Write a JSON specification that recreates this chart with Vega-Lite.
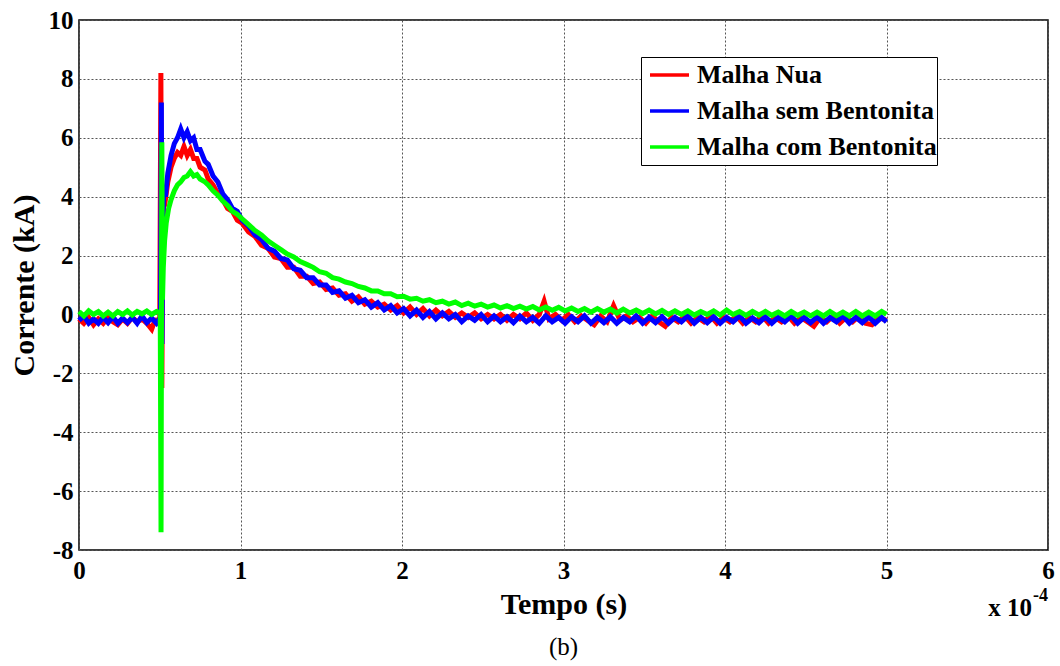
{
"$schema": "https://vega.github.io/schema/vega-lite/v6.json",
"width": 969, "height": 530,
"autosize": {"type": "none"},
"padding": {"left": 79, "top": 20, "right": 12, "bottom": 116},
"background": "white",
"datasets": {
"nua": [{"t":0,"v":-0.15},{"t":0.03,"v":-0.3},{"t":0.06,"v":-0.1},{"t":0.09,"v":-0.35},{"t":0.12,"v":-0.15},{"t":0.15,"v":-0.3},{"t":0.18,"v":-0.1},{"t":0.21,"v":-0.25},{"t":0.24,"v":-0.35},{"t":0.27,"v":-0.15},{"t":0.3,"v":-0.3},{"t":0.33,"v":-0.1},{"t":0.36,"v":-0.25},{"t":0.39,"v":-0.15},{"t":0.42,"v":-0.3},{"t":0.45,"v":-0.5},{"t":0.47,"v":-0.2},{"t":0.5,"v":-0.15},{"t":0.507,"v":8.2},{"t":0.513,"v":-2.5},{"t":0.518,"v":2.5},{"t":0.525,"v":4.0},{"t":0.535,"v":3.9},{"t":0.55,"v":4.5},{"t":0.57,"v":5.0},{"t":0.59,"v":5.3},{"t":0.61,"v":5.5},{"t":0.63,"v":5.4},{"t":0.65,"v":5.7},{"t":0.67,"v":5.4},{"t":0.69,"v":5.6},{"t":0.71,"v":5.3},{"t":0.73,"v":5.3},{"t":0.75,"v":5.0},{"t":0.78,"v":4.9},{"t":0.8,"v":4.6},{"t":0.83,"v":4.4},{"t":0.86,"v":4.1},{"t":0.89,"v":3.9},{"t":0.92,"v":3.6},{"t":0.95,"v":3.5},{"t":0.98,"v":3.2},{"t":1.01,"v":3.1},{"t":1.05,"v":2.8},{"t":1.09,"v":2.65},{"t":1.13,"v":2.35},{"t":1.17,"v":2.25},{"t":1.21,"v":1.95},{"t":1.25,"v":1.9},{"t":1.29,"v":1.6},{"t":1.33,"v":1.6},{"t":1.37,"v":1.3},{"t":1.41,"v":1.3},{"t":1.45,"v":1.05},{"t":1.49,"v":1.1},{"t":1.53,"v":0.85},{"t":1.57,"v":0.9},{"t":1.61,"v":0.65},{"t":1.65,"v":0.7},{"t":1.69,"v":0.45},{"t":1.73,"v":0.6},{"t":1.77,"v":0.35},{"t":1.81,"v":0.45},{"t":1.85,"v":0.25},{"t":1.89,"v":0.35},{"t":1.93,"v":0.15},{"t":1.97,"v":0.3},{"t":2.01,"v":0.05},{"t":2.05,"v":0.25},{"t":2.09,"v":0.0},{"t":2.13,"v":0.2},{"t":2.17,"v":-0.05},{"t":2.21,"v":0.15},{"t":2.25,"v":-0.05},{"t":2.29,"v":0.1},{"t":2.33,"v":-0.1},{"t":2.37,"v":0.05},{"t":2.41,"v":-0.1},{"t":2.45,"v":0.05},{"t":2.49,"v":-0.15},{"t":2.53,"v":0.0},{"t":2.57,"v":-0.15},{"t":2.61,"v":0.0},{"t":2.65,"v":-0.2},{"t":2.69,"v":0.0},{"t":2.73,"v":-0.15},{"t":2.77,"v":0.05},{"t":2.81,"v":-0.2},{"t":2.85,"v":0.0},{"t":2.88,"v":0.45},{"t":2.91,"v":-0.15},{"t":2.95,"v":0.0},{"t":2.99,"v":-0.2},{"t":3.03,"v":0.0},{"t":3.07,"v":-0.25},{"t":3.11,"v":-0.05},{"t":3.15,"v":-0.2},{"t":3.19,"v":-0.35},{"t":3.23,"v":-0.05},{"t":3.27,"v":-0.25},{"t":3.31,"v":0.3},{"t":3.35,"v":-0.2},{"t":3.39,"v":-0.05},{"t":3.43,"v":-0.25},{"t":3.47,"v":-0.1},{"t":3.51,"v":-0.3},{"t":3.55,"v":-0.05},{"t":3.59,"v":-0.25},{"t":3.63,"v":-0.4},{"t":3.67,"v":-0.1},{"t":3.71,"v":-0.25},{"t":3.75,"v":-0.05},{"t":3.79,"v":-0.3},{"t":3.83,"v":-0.1},{"t":3.87,"v":-0.25},{"t":3.91,"v":-0.05},{"t":3.95,"v":-0.3},{"t":3.99,"v":-0.1},{"t":4.03,"v":-0.25},{"t":4.07,"v":-0.05},{"t":4.11,"v":-0.3},{"t":4.15,"v":-0.1},{"t":4.19,"v":-0.25},{"t":4.23,"v":-0.05},{"t":4.27,"v":-0.3},{"t":4.31,"v":-0.1},{"t":4.35,"v":-0.25},{"t":4.39,"v":-0.05},{"t":4.43,"v":-0.3},{"t":4.47,"v":-0.1},{"t":4.51,"v":-0.25},{"t":4.55,"v":-0.4},{"t":4.59,"v":-0.1},{"t":4.63,"v":-0.25},{"t":4.67,"v":-0.05},{"t":4.71,"v":-0.3},{"t":4.75,"v":-0.1},{"t":4.79,"v":-0.25},{"t":4.83,"v":-0.05},{"t":4.87,"v":-0.3},{"t":4.91,"v":-0.35},{"t":4.95,"v":-0.1},{"t":5.0,"v":-0.2}],
"sem": [{"t":0,"v":-0.2},{"t":0.03,"v":-0.05},{"t":0.06,"v":-0.3},{"t":0.09,"v":-0.15},{"t":0.12,"v":-0.3},{"t":0.15,"v":-0.1},{"t":0.18,"v":-0.28},{"t":0.21,"v":-0.08},{"t":0.24,"v":-0.3},{"t":0.27,"v":-0.12},{"t":0.3,"v":-0.28},{"t":0.33,"v":-0.1},{"t":0.36,"v":-0.3},{"t":0.39,"v":-0.05},{"t":0.42,"v":-0.28},{"t":0.45,"v":-0.12},{"t":0.48,"v":-0.3},{"t":0.505,"v":-0.1},{"t":0.51,"v":7.2},{"t":0.514,"v":-1.0},{"t":0.518,"v":3.0},{"t":0.525,"v":4.3},{"t":0.535,"v":4.0},{"t":0.55,"v":4.8},{"t":0.57,"v":5.4},{"t":0.59,"v":5.8},{"t":0.61,"v":6.0},{"t":0.63,"v":6.3},{"t":0.65,"v":6.0},{"t":0.67,"v":6.2},{"t":0.69,"v":5.9},{"t":0.71,"v":6.0},{"t":0.73,"v":5.6},{"t":0.75,"v":5.6},{"t":0.78,"v":5.2},{"t":0.8,"v":5.1},{"t":0.83,"v":4.7},{"t":0.86,"v":4.5},{"t":0.89,"v":4.1},{"t":0.92,"v":3.9},{"t":0.95,"v":3.6},{"t":0.98,"v":3.5},{"t":1.01,"v":3.2},{"t":1.05,"v":3.0},{"t":1.09,"v":2.7},{"t":1.13,"v":2.55},{"t":1.17,"v":2.25},{"t":1.21,"v":2.15},{"t":1.25,"v":1.9},{"t":1.29,"v":1.85},{"t":1.33,"v":1.55},{"t":1.37,"v":1.5},{"t":1.41,"v":1.25},{"t":1.45,"v":1.25},{"t":1.49,"v":1.0},{"t":1.53,"v":1.0},{"t":1.57,"v":0.75},{"t":1.61,"v":0.8},{"t":1.65,"v":0.55},{"t":1.69,"v":0.65},{"t":1.73,"v":0.4},{"t":1.77,"v":0.5},{"t":1.81,"v":0.25},{"t":1.85,"v":0.4},{"t":1.89,"v":0.15},{"t":1.93,"v":0.3},{"t":1.97,"v":0.05},{"t":2.01,"v":0.2},{"t":2.05,"v":-0.05},{"t":2.09,"v":0.15},{"t":2.13,"v":-0.1},{"t":2.17,"v":0.1},{"t":2.21,"v":-0.15},{"t":2.25,"v":0.05},{"t":2.29,"v":-0.15},{"t":2.33,"v":0.0},{"t":2.37,"v":-0.25},{"t":2.41,"v":-0.05},{"t":2.45,"v":-0.2},{"t":2.49,"v":0.0},{"t":2.53,"v":-0.25},{"t":2.57,"v":-0.05},{"t":2.61,"v":-0.25},{"t":2.65,"v":-0.08},{"t":2.69,"v":-0.28},{"t":2.73,"v":-0.05},{"t":2.77,"v":-0.25},{"t":2.81,"v":-0.1},{"t":2.85,"v":-0.3},{"t":2.89,"v":-0.05},{"t":2.93,"v":-0.25},{"t":2.97,"v":-0.1},{"t":3.01,"v":-0.3},{"t":3.05,"v":-0.08},{"t":3.09,"v":-0.25},{"t":3.13,"v":-0.05},{"t":3.17,"v":-0.3},{"t":3.21,"v":-0.1},{"t":3.25,"v":-0.28},{"t":3.29,"v":-0.08},{"t":3.33,"v":-0.3},{"t":3.37,"v":-0.1},{"t":3.41,"v":-0.25},{"t":3.45,"v":-0.05},{"t":3.49,"v":-0.3},{"t":3.53,"v":-0.1},{"t":3.57,"v":-0.28},{"t":3.61,"v":-0.08},{"t":3.65,"v":-0.3},{"t":3.69,"v":-0.1},{"t":3.73,"v":-0.25},{"t":3.77,"v":-0.05},{"t":3.81,"v":-0.3},{"t":3.85,"v":-0.1},{"t":3.89,"v":-0.28},{"t":3.93,"v":-0.08},{"t":3.97,"v":-0.3},{"t":4.01,"v":-0.1},{"t":4.05,"v":-0.25},{"t":4.09,"v":-0.05},{"t":4.13,"v":-0.3},{"t":4.17,"v":-0.12},{"t":4.21,"v":-0.28},{"t":4.25,"v":-0.08},{"t":4.29,"v":-0.3},{"t":4.33,"v":-0.1},{"t":4.37,"v":-0.25},{"t":4.41,"v":-0.05},{"t":4.45,"v":-0.3},{"t":4.49,"v":-0.1},{"t":4.53,"v":-0.28},{"t":4.57,"v":-0.08},{"t":4.61,"v":-0.3},{"t":4.65,"v":-0.1},{"t":4.69,"v":-0.25},{"t":4.73,"v":-0.05},{"t":4.77,"v":-0.3},{"t":4.81,"v":-0.1},{"t":4.85,"v":-0.28},{"t":4.89,"v":-0.08},{"t":4.93,"v":-0.3},{"t":4.97,"v":-0.1},{"t":5.0,"v":-0.25}],
"com": [{"t":0,"v":0.1},{"t":0.03,"v":-0.05},{"t":0.06,"v":0.12},{"t":0.09,"v":0.0},{"t":0.12,"v":0.1},{"t":0.15,"v":-0.05},{"t":0.18,"v":0.08},{"t":0.21,"v":-0.05},{"t":0.24,"v":0.1},{"t":0.27,"v":0.0},{"t":0.3,"v":0.12},{"t":0.33,"v":-0.02},{"t":0.36,"v":0.1},{"t":0.39,"v":0.02},{"t":0.42,"v":0.12},{"t":0.45,"v":0.0},{"t":0.48,"v":0.1},{"t":0.503,"v":0.05},{"t":0.508,"v":-7.4},{"t":0.513,"v":5.85},{"t":0.517,"v":0.5},{"t":0.522,"v":1.6},{"t":0.53,"v":2.5},{"t":0.54,"v":3.1},{"t":0.555,"v":3.6},{"t":0.57,"v":3.9},{"t":0.59,"v":4.2},{"t":0.61,"v":4.4},{"t":0.63,"v":4.5},{"t":0.65,"v":4.65},{"t":0.67,"v":4.7},{"t":0.69,"v":4.85},{"t":0.71,"v":4.7},{"t":0.73,"v":4.75},{"t":0.75,"v":4.6},{"t":0.78,"v":4.5},{"t":0.8,"v":4.4},{"t":0.83,"v":4.2},{"t":0.86,"v":4.05},{"t":0.89,"v":3.85},{"t":0.92,"v":3.7},{"t":0.95,"v":3.5},{"t":0.98,"v":3.4},{"t":1.01,"v":3.25},{"t":1.05,"v":3.05},{"t":1.09,"v":2.85},{"t":1.13,"v":2.7},{"t":1.17,"v":2.5},{"t":1.21,"v":2.35},{"t":1.25,"v":2.2},{"t":1.29,"v":2.05},{"t":1.33,"v":1.95},{"t":1.37,"v":1.8},{"t":1.41,"v":1.7},{"t":1.45,"v":1.6},{"t":1.49,"v":1.45},{"t":1.53,"v":1.4},{"t":1.57,"v":1.25},{"t":1.61,"v":1.2},{"t":1.65,"v":1.1},{"t":1.69,"v":1.05},{"t":1.73,"v":0.95},{"t":1.77,"v":0.9},{"t":1.81,"v":0.8},{"t":1.85,"v":0.8},{"t":1.89,"v":0.7},{"t":1.93,"v":0.7},{"t":1.97,"v":0.6},{"t":2.01,"v":0.62},{"t":2.05,"v":0.52},{"t":2.09,"v":0.55},{"t":2.13,"v":0.45},{"t":2.17,"v":0.5},{"t":2.21,"v":0.4},{"t":2.25,"v":0.45},{"t":2.29,"v":0.35},{"t":2.33,"v":0.42},{"t":2.37,"v":0.3},{"t":2.41,"v":0.38},{"t":2.45,"v":0.28},{"t":2.49,"v":0.35},{"t":2.53,"v":0.25},{"t":2.57,"v":0.32},{"t":2.61,"v":0.22},{"t":2.65,"v":0.3},{"t":2.69,"v":0.2},{"t":2.73,"v":0.28},{"t":2.77,"v":0.18},{"t":2.81,"v":0.27},{"t":2.85,"v":0.15},{"t":2.89,"v":0.25},{"t":2.93,"v":0.14},{"t":2.97,"v":0.24},{"t":3.01,"v":0.12},{"t":3.05,"v":0.22},{"t":3.09,"v":0.1},{"t":3.13,"v":0.2},{"t":3.17,"v":0.08},{"t":3.21,"v":0.2},{"t":3.25,"v":0.08},{"t":3.29,"v":0.18},{"t":3.33,"v":0.05},{"t":3.37,"v":0.18},{"t":3.41,"v":0.05},{"t":3.45,"v":0.15},{"t":3.49,"v":0.03},{"t":3.53,"v":0.15},{"t":3.57,"v":0.02},{"t":3.61,"v":0.14},{"t":3.65,"v":0.0},{"t":3.69,"v":0.12},{"t":3.73,"v":0.0},{"t":3.77,"v":0.12},{"t":3.81,"v":-0.02},{"t":3.85,"v":0.1},{"t":3.89,"v":0.0},{"t":3.93,"v":0.12},{"t":3.97,"v":-0.02},{"t":4.01,"v":0.15},{"t":4.05,"v":0.0},{"t":4.09,"v":0.1},{"t":4.13,"v":-0.03},{"t":4.17,"v":0.1},{"t":4.21,"v":-0.02},{"t":4.25,"v":0.1},{"t":4.29,"v":-0.03},{"t":4.33,"v":0.08},{"t":4.37,"v":-0.05},{"t":4.41,"v":0.1},{"t":4.45,"v":-0.03},{"t":4.49,"v":0.08},{"t":4.53,"v":-0.05},{"t":4.57,"v":0.08},{"t":4.61,"v":-0.05},{"t":4.65,"v":0.1},{"t":4.69,"v":-0.04},{"t":4.73,"v":0.08},{"t":4.77,"v":-0.05},{"t":4.81,"v":0.1},{"t":4.85,"v":-0.05},{"t":4.89,"v":0.08},{"t":4.93,"v":-0.05},{"t":4.97,"v":0.1},{"t":5.0,"v":0.0}],
"corner": [{"t":6,"v":-8}]
},
"title": {"text": "(b)", "orient": "bottom", "anchor": "middle", "font": "Liberation Serif", "fontWeight": "normal", "fontSize": 25, "color": "black", "offset": 14},
"encoding": {
  "x": {"field": "t", "type": "quantitative", "scale": {"domain": [0, 6], "nice": false, "zero": false},
        "axis": {"title": "Tempo (s)", "values": [0,1,2,3,4,5,6], "labelExpr": "'' + datum.value", "labelPadding": 8, "titlePadding": 6}},
  "y": {"field": "v", "type": "quantitative", "scale": {"domain": [-8, 10], "nice": false, "zero": false},
        "axis": {"title": "Corrente (kA)", "values": [-8,-6,-4,-2,0,2,4,6,8,10], "labelExpr": "'' + datum.value", "labelPadding": 6, "titlePadding": 9}}
},
"layer": [
  {"data": {"name": "nua"}, "mark": {"type": "line", "strokeWidth": 5},
   "encoding": {"color": {"datum": "Malha Nua", "type": "nominal",
     "scale": {"domain": ["Malha Nua", "Malha sem Bentonita", "Malha com Bentonita"], "range": ["#ff0000", "#0000ff", "#00ff00"]},
     "legend": {"title": null, "labelExpr": "datum.label + '    '"}}}},
  {"data": {"name": "sem"}, "mark": {"type": "line", "strokeWidth": 5},
   "encoding": {"color": {"datum": "Malha sem Bentonita", "type": "nominal"}}},
  {"data": {"name": "com"}, "mark": {"type": "line", "strokeWidth": 5},
   "encoding": {"color": {"datum": "Malha com Bentonita", "type": "nominal"}}},
  {"data": {"name": "corner"}, "mark": {"type": "text", "align": "right", "baseline": "alphabetic", "dx": -16, "dy": 66, "font": "Liberation Serif", "fontWeight": "bold", "fontSize": 25, "color": "black"},
   "encoding": {"text": {"value": "x 10"}}},
  {"data": {"name": "corner"}, "mark": {"type": "text", "align": "left", "baseline": "alphabetic", "dx": -15, "dy": 51, "font": "Liberation Serif", "fontWeight": "bold", "fontSize": 18, "color": "black"},
   "encoding": {"text": {"value": "-4"}}}
],
"config": {
  "font": "Liberation Serif",
  "view": {"stroke": "black", "strokeWidth": 1.5},
  "axis": {"labelFont": "Liberation Serif", "labelFontSize": 25, "labelFontWeight": "bold", "labelColor": "black",
           "titleFont": "Liberation Serif", "titleFontSize": 30, "titleFontWeight": "bold", "titleColor": "black",
           "domain": false, "ticks": false, "grid": true, "gridColor": "#555555", "gridDash": [2, 2], "gridWidth": 1, "gridOpacity": 1,
           "labelFlush": false, "labelOverlap": false},
  "legend": {"orient": "none", "legendX": 562, "legendY": 37, "strokeColor": "black", "fillColor": "white", "padding": 0,
             "symbolType": "stroke", "symbolSize": 1521, "symbolStrokeWidth": 3.5, "symbolOffset": 7, "clipHeight": 36,
             "labelFont": "Liberation Serif", "labelFontSize": 26,
             "labelFontWeight": "bold", "labelColor": "black", "labelOffset": 6, "rowPadding": -3, "cornerRadius": 0, "labelLimit": 400}
}
}
